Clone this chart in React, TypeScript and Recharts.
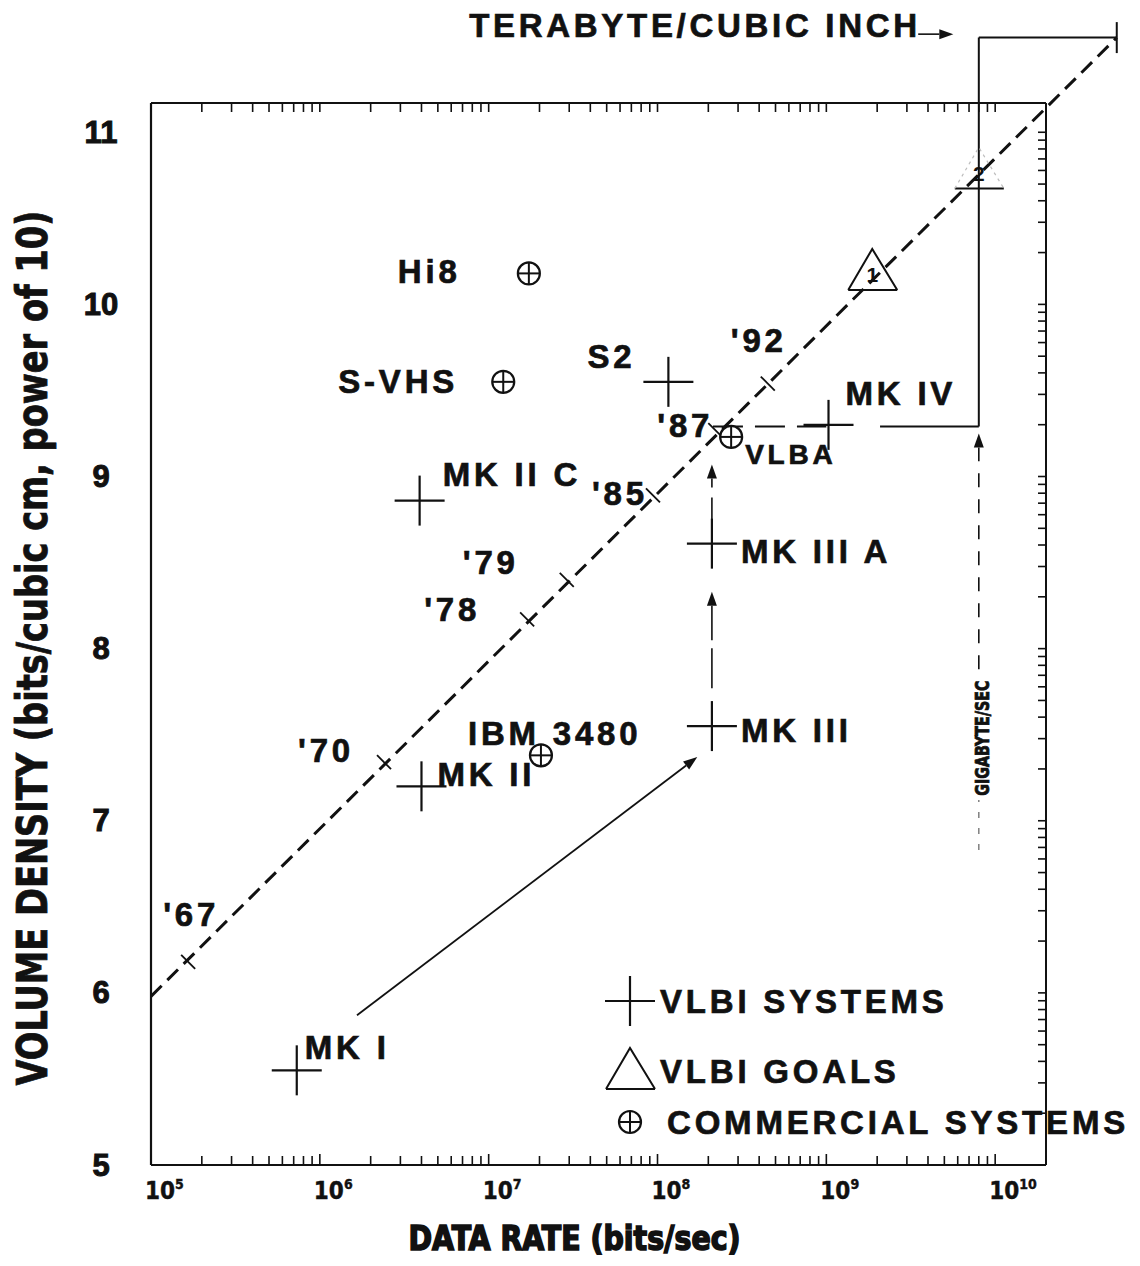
import React from 'react';
import { ComposedChart, Scatter, XAxis, YAxis, ReferenceLine, ReferenceDot, Legend } from 'recharts';

const FONT = "'Liberation Sans', Arial, Helvetica, sans-serif";
const NARROW = "'Liberation Sans Narrow', 'DejaVu Sans Condensed', 'Liberation Sans', sans-serif";
const INK = '#111';

// ---------------- axes ----------------
const X_DOMAIN: [number, number] = [1e5, 2e10];
const Y_DOMAIN: [number, number] = [5, 11.17];
const X_DECADES = [5, 6, 7, 8, 9, 10];
const Y_DECADES = [5, 6, 7, 8, 9, 10, 11];
const MANTISSAS = [1, 2, 3, 4, 5, 6, 7, 8, 9];
const Y_TICK_LABELS = ['5', '6', '7', '8', '9', '10', '11'];

// ---------------- series ----------------
const SERIES_NAMES = ['VLBI SYSTEMS', 'VLBI GOALS', 'COMMERCIAL SYSTEMS'];

const VLBI_NAMES = ['MK I', 'MK II', 'MK II C', 'MK III', 'MK III A', 'S2', 'MK IV'];
const VLBI_RATE = [7.3e5, 4.0e6, 3.9e6, 2.1e8, 2.1e8, 1.16e8, 1.03e9];
const VLBI_DENSITY = [5.55, 7.2, 8.86, 7.55, 8.61, 9.55, 9.3];

const GOAL_NAMES = ['1', '2'];
const GOAL_RATE = [1.87e9, 8.0e9];
const GOAL_DENSITY = [10.2, 10.79];

const COMM_NAMES = ['Hi8', 'S-VHS', 'IBM 3480', 'VLBA'];
const COMM_RATE = [1.73e7, 1.22e7, 2.04e7, 2.73e8];
const COMM_DENSITY = [10.18, 9.55, 7.38, 9.23];

const YEAR_NAMES = ["'67", "'70", "'78", "'79", "'85", "'87", "'92"];
const YEAR_RATE = [1.66e5, 2.4e6, 1.69e7, 2.9e7, 9.4e7, 2.2e8, 4.5e8];
const YEAR_DENSITY = [6.18, 7.34, 8.17, 8.4, 8.89, 9.27, 9.54];

// ---------------- annotations ----------------
const TREND_RATE = [1e5, 5.25e10];
const TREND_DENSITY = [5.98, 11.55];
const GIGABYTE_PER_SEC = 8e9;
const TERABYTE_PER_CUBIC_INCH = 11.55;
const MK_IV_LEVEL = 9.29;
const LEVEL_DASHED_RATE = [2.13e8, 1.0e9];
const LEVEL_SOLID_RATE = [2.08e9, 8e9];
const ARROW_MK1_MK3_RATE = [1.66e6, 1.72e8];
const ARROW_MK1_MK3_DENSITY = [5.87, 7.37];
const ARROW_MK3_MK3A_DENSITY = [7.77, 8.33];
const ARROW_MK3A_VLBA_DENSITY = [8.75, 9.07];
const MK3_RATE = 2.1e8;
const GIGA_ARROW_LOW_DENSITY = [6.83, 7.12];
const GIGA_ARROW_HIGH_DENSITY = [7.88, 9.25];
const GIGA_TEXT_DENSITY = 7.48;
const TERA_ARROW_RATE = [3.5e9, 5.65e9];
const TERA_ARROW_DENSITY = 11.57;
const TERA_TICK_DENSITY = [11.46, 11.64];
const TERA_TEXT_RATE = 3.45e9;
const TERA_TEXT_DENSITY = 11.62;

const vlbiData = VLBI_NAMES.map((name, i) => ({ name, rate: VLBI_RATE[i], density: VLBI_DENSITY[i] }));
const goalData = GOAL_NAMES.map((name, i) => ({ name, rate: GOAL_RATE[i], density: GOAL_DENSITY[i] }));
const commData = COMM_NAMES.map((name, i) => ({ name, rate: COMM_RATE[i], density: COMM_DENSITY[i] }));
const yearData = YEAR_NAMES.map((name, i) => ({ name, rate: YEAR_RATE[i], density: YEAR_DENSITY[i] }));

const X_TICKS = X_DECADES.flatMap((d) => MANTISSAS.map((m) => m * Math.pow(10, d))).filter((v) => v <= X_DOMAIN[1]);
const Y_MINOR_TICKS = Y_DECADES.flatMap((d) => MANTISSAS.map((m) => d + Math.log10(m))).filter((v) => v <= Y_DOMAIN[1]);
const Y_TICKS = Y_DECADES;

// ---------------- layout (styling only) ----------------
const LABEL_OFFSET: Record<string, [number, number]> = {
  'MK I': [8, -23],
  'MK II': [16, -12],
  'MK II C': [23, -26],
  'MK III': [29, 4],
  'MK III A': [29, 8],
  S2: [-81, -25],
  'MK IV': [17, -31],
  Hi8: [-131, -2],
  'S-VHS': [-165, 0],
  'IBM 3480': [-73, -22],
  VLBA: [14, 18],
  "'67": [-25, -47],
  "'70": [-86, -12],
  "'78": [-103, -10],
  "'79": [-104, -17],
  "'85": [-61, -2],
  "'87": [-58, -5],
  "'92": [-37, -43],
};
const LABEL_SIZE: Record<string, number> = { VLBA: 28 };

const labelText = (x: number, y: number, s: string) => (
  <text
    x={x}
    y={y}
    fontFamily={FONT}
    fontWeight={700}
    fontSize={LABEL_SIZE[s] || 33}
    letterSpacing={3.8}
    dominantBaseline="central"
    fill={INK}
    stroke={INK}
    strokeWidth={0.7}
  >
    {s}
  </text>
);

const crossGlyph = (cx: number, cy: number) => (
  <g>
    <line x1={cx - 25} y1={cy} x2={cx + 25} y2={cy} stroke={INK} strokeWidth={2.2} />
    <line x1={cx} y1={cy - 25} x2={cx} y2={cy + 25} stroke={INK} strokeWidth={2.2} />
  </g>
);

const oplusGlyph = (cx: number, cy: number) => (
  <g>
    <circle cx={cx} cy={cy} r={11} fill="#fff" stroke={INK} strokeWidth={2.2} />
    <line x1={cx - 11} y1={cy} x2={cx + 11} y2={cy} stroke={INK} strokeWidth={2} />
    <line x1={cx} y1={cy - 11} x2={cx} y2={cy + 11} stroke={INK} strokeWidth={2} />
  </g>
);

const triangleGlyph = (cx: number, cy: number, faint = false) => (
  <g>
    <line x1={cx - 24} y1={cy + 20} x2={cx + 25} y2={cy + 20} stroke={INK} strokeWidth={2} />
    <polyline
      points={`${cx - 24},${cy + 20} ${cx},${cy - 21} ${cx + 25},${cy + 20}`}
      fill="none"
      stroke={faint ? '#bdbdbd' : INK}
      strokeWidth={faint ? 1.2 : 2}
      strokeDasharray={faint ? '3 4' : undefined}
    />
  </g>
);

const CrossShape = (p: any) => {
  const { cx, cy, payload } = p;
  const [dx, dy] = LABEL_OFFSET[payload.name] || [20, -20];
  return (
    <g>
      {crossGlyph(cx, cy)}
      {labelText(cx + dx, cy + dy, payload.name)}
    </g>
  );
};

const OplusShape = (p: any) => {
  const { cx, cy, payload } = p;
  const [dx, dy] = LABEL_OFFSET[payload.name] || [20, -20];
  return (
    <g>
      {oplusGlyph(cx, cy)}
      {labelText(cx + dx, cy + dy, payload.name)}
    </g>
  );
};

const TriangleShape = (p: any) => {
  const { cx, cy, payload } = p;
  return (
    <g>
      {triangleGlyph(cx, cy, payload.name === '2')}
      <text x={cx} y={cy + 5} textAnchor="middle" dominantBaseline="central" fontFamily={FONT} fontWeight={700} fontSize={21} fill={INK}>
        {payload.name}
      </text>
    </g>
  );
};

const YearShape = (p: any) => {
  const { cx, cy, payload } = p;
  const [dx, dy] = LABEL_OFFSET[payload.name] || [-40, -20];
  return (
    <g>
      <line x1={cx - 7} y1={cy - 7} x2={cx + 7} y2={cy + 7} stroke={INK} strokeWidth={1.8} />
      {labelText(cx + dx, cy + dy, payload.name)}
    </g>
  );
};

const arrowShape = (dash?: string, width = 1.6) => (p: any) => {
  const { x1, y1, x2, y2 } = p;
  const ang = Math.atan2(y2 - y1, x2 - x1);
  const L = 14;
  const W = 5;
  const bx = x2 - L * Math.cos(ang);
  const by = y2 - L * Math.sin(ang);
  const pts = `${x2},${y2} ${bx + W * Math.sin(ang)},${by - W * Math.cos(ang)} ${bx - W * Math.sin(ang)},${by + W * Math.cos(ang)}`;
  return (
    <g>
      <line x1={x1} y1={y1} x2={bx} y2={by} stroke={INK} strokeWidth={width} strokeDasharray={dash} />
      <polygon points={pts} fill={INK} />
    </g>
  );
};

const isDecade = (v: number) => Math.abs(Math.log10(v) - Math.round(Math.log10(v))) < 1e-6;

const BottomTick = (p: any) => {
  const { x, y, payload } = p;
  const v = payload.value;
  const dec = isDecade(v);
  return (
    <g>
      <line x1={x} y1={y} x2={x} y2={y - (dec ? 11 : 9)} stroke={INK} strokeWidth={1.6} />
      {dec && (
        <text x={x - 6} y={y + 34} fontFamily={NARROW} fontWeight={700} fontSize={24} fill={INK} stroke={INK} strokeWidth={0.4}>
          10
          <tspan dy={-10} fontSize={14}>
            {Math.round(Math.log10(v))}
          </tspan>
        </text>
      )}
    </g>
  );
};

const TopTick = (p: any) => {
  const { x, y } = p;
  return <line x1={x} y1={y} x2={x} y2={y + 9} stroke={INK} strokeWidth={1.6} />;
};

const RightTick = (p: any) => {
  const { x, y } = p;
  return <line x1={x} y1={y} x2={x - 8} y2={y} stroke={INK} strokeWidth={1.6} />;
};

const LeftTick = (p: any) => {
  const { x, y, payload } = p;
  const idx = Y_TICKS.indexOf(payload.value);
  return (
    <text
      x={x - 50}
      y={y}
      textAnchor="middle"
      dominantBaseline="central"
      fontFamily={FONT}
      fontWeight={700}
      fontSize={31}
      fill={INK}
      stroke={INK}
      strokeWidth={1}
    >
      {Y_TICK_LABELS[idx] ?? String(payload.value)}
    </text>
  );
};

const renderLegend = () => (
  <svg width={540} height={180} style={{ display: 'block', overflow: 'visible' }}>
    {crossGlyph(30, 36)}
    {labelText(60, 36, SERIES_NAMES[0])}
    {triangleGlyph(30, 104)}
    {labelText(60, 106, SERIES_NAMES[1])}
    {oplusGlyph(30, 157)}
    {labelText(67, 157, SERIES_NAMES[2])}
  </svg>
);

export default function App() {
  return (
    <div style={{ position: 'absolute', left: 0, top: 0, width: 1140, height: 1266, background: '#fff' }}>
      <ComposedChart width={1140} height={1266} margin={{ top: 93, right: 84, bottom: 61, left: 91 }}>
        <XAxis
          xAxisId={0}
          dataKey="rate"
          type="number"
          scale="log"
          domain={X_DOMAIN}
          allowDataOverflow
          ticks={X_TICKS}
          interval={0}
          height={40}
          tickSize={0}
          tickMargin={0}
          tickLine={false}
          tick={<BottomTick />}
          axisLine={{ stroke: INK, strokeWidth: 2.2 }}
          label={{
            content: (lp: any) => {
              const vb = lp.viewBox || { x: 151, y: 1165, width: 895 };
              return (
                <text
                  x={vb.x + vb.width / 2 - 24}
                  y={vb.y + 73}
                  textAnchor="middle"
                  dominantBaseline="central"
                  fontFamily={NARROW}
                  fontWeight={900}
                  fontSize={34}
                  stroke={INK}
                  strokeWidth={1.6}
                  fill={INK}
                  textLength={332}
                  lengthAdjust="spacingAndGlyphs"
                >
                  DATA RATE (bits/sec)
                </text>
              );
            },
          }}
        />
        <XAxis
          xAxisId="top"
          orientation="top"
          dataKey="rate"
          type="number"
          scale="log"
          domain={X_DOMAIN}
          allowDataOverflow
          ticks={X_TICKS}
          interval={0}
          height={10}
          tickSize={0}
          tickMargin={0}
          tickLine={false}
          tick={<TopTick />}
          axisLine={{ stroke: INK, strokeWidth: 2 }}
        />
        <YAxis
          yAxisId={0}
          dataKey="density"
          type="number"
          domain={Y_DOMAIN}
          allowDataOverflow
          ticks={Y_TICKS}
          interval={0}
          width={60}
          tickSize={0}
          tickMargin={0}
          tickLine={false}
          tick={<LeftTick />}
          axisLine={{ stroke: INK, strokeWidth: 2.2 }}
          label={{
            content: (lp: any) => {
              const vb = lp.viewBox || { x: 91, y: 103, width: 60, height: 1062 };
              const cx = 32;
              const cy = vb.y + vb.height / 2 + 14;
              return (
                <text
                  x={cx}
                  y={cy}
                  transform={`rotate(-90 ${cx} ${cy})`}
                  textAnchor="middle"
                  dominantBaseline="central"
                  fontFamily={NARROW}
                  fontWeight={700}
                  fontSize={42}
                  fill={INK}
                  stroke={INK}
                  strokeWidth={0.8}
                  textLength={875}
                  lengthAdjust="spacingAndGlyphs"
                >
                  VOLUME DENSITY (bits/cubic cm, power of 10)
                </text>
              );
            },
          }}
        />
        <YAxis
          yAxisId="right"
          orientation="right"
          dataKey="density"
          type="number"
          domain={Y_DOMAIN}
          allowDataOverflow
          ticks={Y_MINOR_TICKS}
          interval={0}
          width={10}
          tickSize={0}
          tickMargin={0}
          tickLine={false}
          tick={<RightTick />}
          axisLine={{ stroke: INK, strokeWidth: 2 }}
        />

        {/* trend line */}
        <ReferenceLine
          segment={[
            { x: TREND_RATE[0], y: TREND_DENSITY[0] },
            { x: TREND_RATE[1], y: TREND_DENSITY[1] },
          ]}
          ifOverflow="visible"
          stroke={INK}
          strokeWidth={3}
          strokeDasharray="15 8"
        />

        {/* MK IV level to gigabyte/sec and terabyte/cubic inch boundary */}
        <ReferenceLine
          segment={[
            { x: LEVEL_DASHED_RATE[0], y: MK_IV_LEVEL },
            { x: LEVEL_DASHED_RATE[1], y: MK_IV_LEVEL },
          ]}
          ifOverflow="visible"
          stroke={INK}
          strokeWidth={2}
          strokeDasharray="30 12"
        />
        <ReferenceLine
          segment={[
            { x: LEVEL_SOLID_RATE[0], y: MK_IV_LEVEL },
            { x: LEVEL_SOLID_RATE[1], y: MK_IV_LEVEL },
          ]}
          ifOverflow="visible"
          stroke={INK}
          strokeWidth={2}
        />
        <ReferenceLine
          segment={[
            { x: GIGABYTE_PER_SEC, y: MK_IV_LEVEL },
            { x: GIGABYTE_PER_SEC, y: TERABYTE_PER_CUBIC_INCH },
          ]}
          ifOverflow="visible"
          stroke={INK}
          strokeWidth={2}
        />
        <ReferenceLine
          segment={[
            { x: GIGABYTE_PER_SEC, y: TERABYTE_PER_CUBIC_INCH },
            { x: TREND_RATE[1], y: TERABYTE_PER_CUBIC_INCH },
          ]}
          ifOverflow="visible"
          stroke={INK}
          strokeWidth={2}
        />
        <ReferenceLine
          segment={[
            { x: TREND_RATE[1], y: TERA_TICK_DENSITY[0] },
            { x: TREND_RATE[1], y: TERA_TICK_DENSITY[1] },
          ]}
          ifOverflow="visible"
          stroke={INK}
          strokeWidth={2}
        />

        {/* arrows */}
        <ReferenceLine
          segment={[
            { x: ARROW_MK1_MK3_RATE[0], y: ARROW_MK1_MK3_DENSITY[0] },
            { x: ARROW_MK1_MK3_RATE[1], y: ARROW_MK1_MK3_DENSITY[1] },
          ]}
          ifOverflow="visible"
          shape={arrowShape(undefined, 1.8)}
        />
        <ReferenceLine
          segment={[
            { x: MK3_RATE, y: ARROW_MK3_MK3A_DENSITY[0] },
            { x: MK3_RATE, y: ARROW_MK3_MK3A_DENSITY[1] },
          ]}
          ifOverflow="visible"
          shape={arrowShape('40 8', 1.6)}
        />
        <ReferenceLine
          segment={[
            { x: MK3_RATE, y: ARROW_MK3A_VLBA_DENSITY[0] },
            { x: MK3_RATE, y: ARROW_MK3A_VLBA_DENSITY[1] },
          ]}
          ifOverflow="visible"
          shape={arrowShape('22 10', 1.6)}
        />
        <ReferenceLine
          segment={[
            { x: GIGABYTE_PER_SEC, y: GIGA_ARROW_LOW_DENSITY[0] },
            { x: GIGABYTE_PER_SEC, y: GIGA_ARROW_LOW_DENSITY[1] },
          ]}
          ifOverflow="visible"
          stroke="#777"
          strokeWidth={1.4}
          strokeDasharray="6 10"
        />
        <ReferenceLine
          segment={[
            { x: GIGABYTE_PER_SEC, y: GIGA_ARROW_HIGH_DENSITY[0] },
            { x: GIGABYTE_PER_SEC, y: GIGA_ARROW_HIGH_DENSITY[1] },
          ]}
          ifOverflow="visible"
          shape={arrowShape('14 12', 1.6)}
        />
        <ReferenceLine
          segment={[
            { x: TERA_ARROW_RATE[0], y: TERA_ARROW_DENSITY },
            { x: TERA_ARROW_RATE[1], y: TERA_ARROW_DENSITY },
          ]}
          ifOverflow="visible"
          shape={arrowShape(undefined, 1.6)}
        />

        <ReferenceDot
          x={TERA_TEXT_RATE}
          y={TERA_TEXT_DENSITY}
          ifOverflow="visible"
          shape={(p: any) => (
            <text
              x={p.cx}
              y={p.cy}
              textAnchor="end"
              dominantBaseline="central"
              fontFamily={FONT}
              fontWeight={700}
              fontSize={33}
              fill={INK}
              stroke={INK}
              strokeWidth={0.7}
              textLength={448}
              lengthAdjust="spacing"
            >
              TERABYTE/CUBIC INCH
            </text>
          )}
        />
        <ReferenceDot
          x={GIGABYTE_PER_SEC}
          y={GIGA_TEXT_DENSITY}
          ifOverflow="visible"
          shape={(p: any) => (
            <text
              x={p.cx + 3}
              y={p.cy}
              transform={`rotate(-90 ${p.cx + 3} ${p.cy})`}
              textAnchor="middle"
              dominantBaseline="central"
              fontFamily={NARROW}
              fontWeight={700}
              fontSize={19}
              fill={INK}
              stroke={INK}
              strokeWidth={0.8}
              textLength={115}
              lengthAdjust="spacingAndGlyphs"
            >
              GIGABYTE/SEC
            </text>
          )}
        />

        <Scatter name="years" data={yearData} shape={<YearShape />} legendType="none" isAnimationActive={false} />
        <Scatter name={SERIES_NAMES[0]} data={vlbiData} shape={<CrossShape />} isAnimationActive={false} />
        <Scatter name={SERIES_NAMES[1]} data={goalData} shape={<TriangleShape />} isAnimationActive={false} />
        <Scatter name={SERIES_NAMES[2]} data={commData} shape={<OplusShape />} isAnimationActive={false} />

        <Legend
          content={renderLegend}
          layout="horizontal"
          verticalAlign="middle"
          align="center"
          wrapperStyle={{ left: 600, top: 965, width: 540, height: 180 }}
        />
      </ComposedChart>
    </div>
  );
}
